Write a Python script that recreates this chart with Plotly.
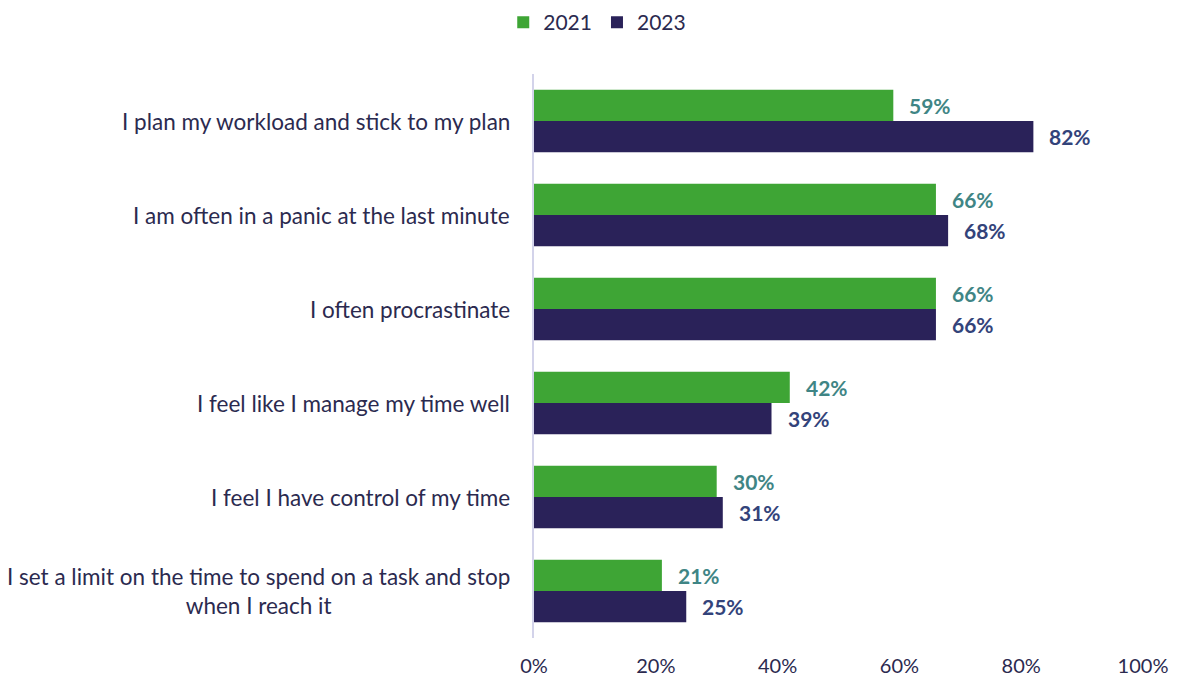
import plotly.graph_objects as go

categories = [
    "I plan my workload and stick to my plan",
    "I am often in a panic at the last minute",
    "I often procrastinate",
    "I feel like I manage my time well",
    "I feel I have control of my time",
    "I set a limit on the time to spend on a task and stop<br>when I reach it",
]
values_2021 = [59, 66, 66, 42, 30, 21]
values_2023 = [82, 68, 66, 39, 31, 25]
tick_values = [0, 20, 40, 60, 80, 100]
tick_labels = ["0%", "20%", "40%", "60%", "80%", "100%"]

GREEN = "#3EA535"
NAVY = "#2A2259"
TEXT = "#2B2A4F"
FONT = "Lato"

fig = go.Figure()
fig.add_trace(go.Bar(
    name="2021", y=categories, x=values_2021, orientation="h",
    marker=dict(color=GREEN, line=dict(width=0)),
))
fig.add_trace(go.Bar(
    name="2023", y=categories, x=values_2023, orientation="h",
    marker=dict(color=NAVY, line=dict(width=0)),
))

# value labels just past the end of each bar
half = 0.667 / 4
for i, (a, b) in enumerate(zip(values_2021, values_2023)):
    fig.add_annotation(x=a, y=i - half, xref="x", yref="y", text=f"<b>{a}%</b>",
                       showarrow=False, xanchor="left", xshift=14,
                       font=dict(family=FONT, size=21, color="#3F8585"))
    fig.add_annotation(x=b, y=i + half, xref="x", yref="y", text=f"<b>{b}%</b>",
                       showarrow=False, xanchor="left", xshift=14,
                       font=dict(family=FONT, size=21, color="#33437A"))

# category labels, centred per line and right-aligned to the axis
for i, c in enumerate(categories):
    fig.add_annotation(x=0, y=i, xref="paper", yref="y", text=c, showarrow=False,
                       xanchor="right", xshift=-22, align="center",
                       font=dict(family=FONT, size=22.5, color=TEXT))

fig.update_layout(
    width=1178, height=678,
    margin=dict(l=534, r=35, t=74, b=40, autoexpand=False),
    paper_bgcolor="white", plot_bgcolor="white",
    barmode="group", bargap=0.333, bargroupgap=0,
    font=dict(family=FONT, size=20, color=TEXT),
    showlegend=True,
    legend=dict(orientation="h", xref="container", x=0.507, xanchor="center",
                yref="container", y=0.997, yanchor="top",
                font=dict(family=FONT, size=21, color=TEXT),
                itemwidth=30, traceorder="normal"),
)
fig.update_xaxes(range=[0, 100], tickvals=tick_values, ticktext=tick_labels,
                 showgrid=False, zeroline=False, showline=False, automargin=False,
                 ticklabelstandoff=14, tickfont=dict(family=FONT, size=20, color=TEXT))
fig.update_yaxes(autorange="reversed", showticklabels=False, showgrid=False,
                 automargin=False,
                 showline=True, linecolor="#D3D3EA", linewidth=1.5, ticks="")

fig.write_html("out.html")
